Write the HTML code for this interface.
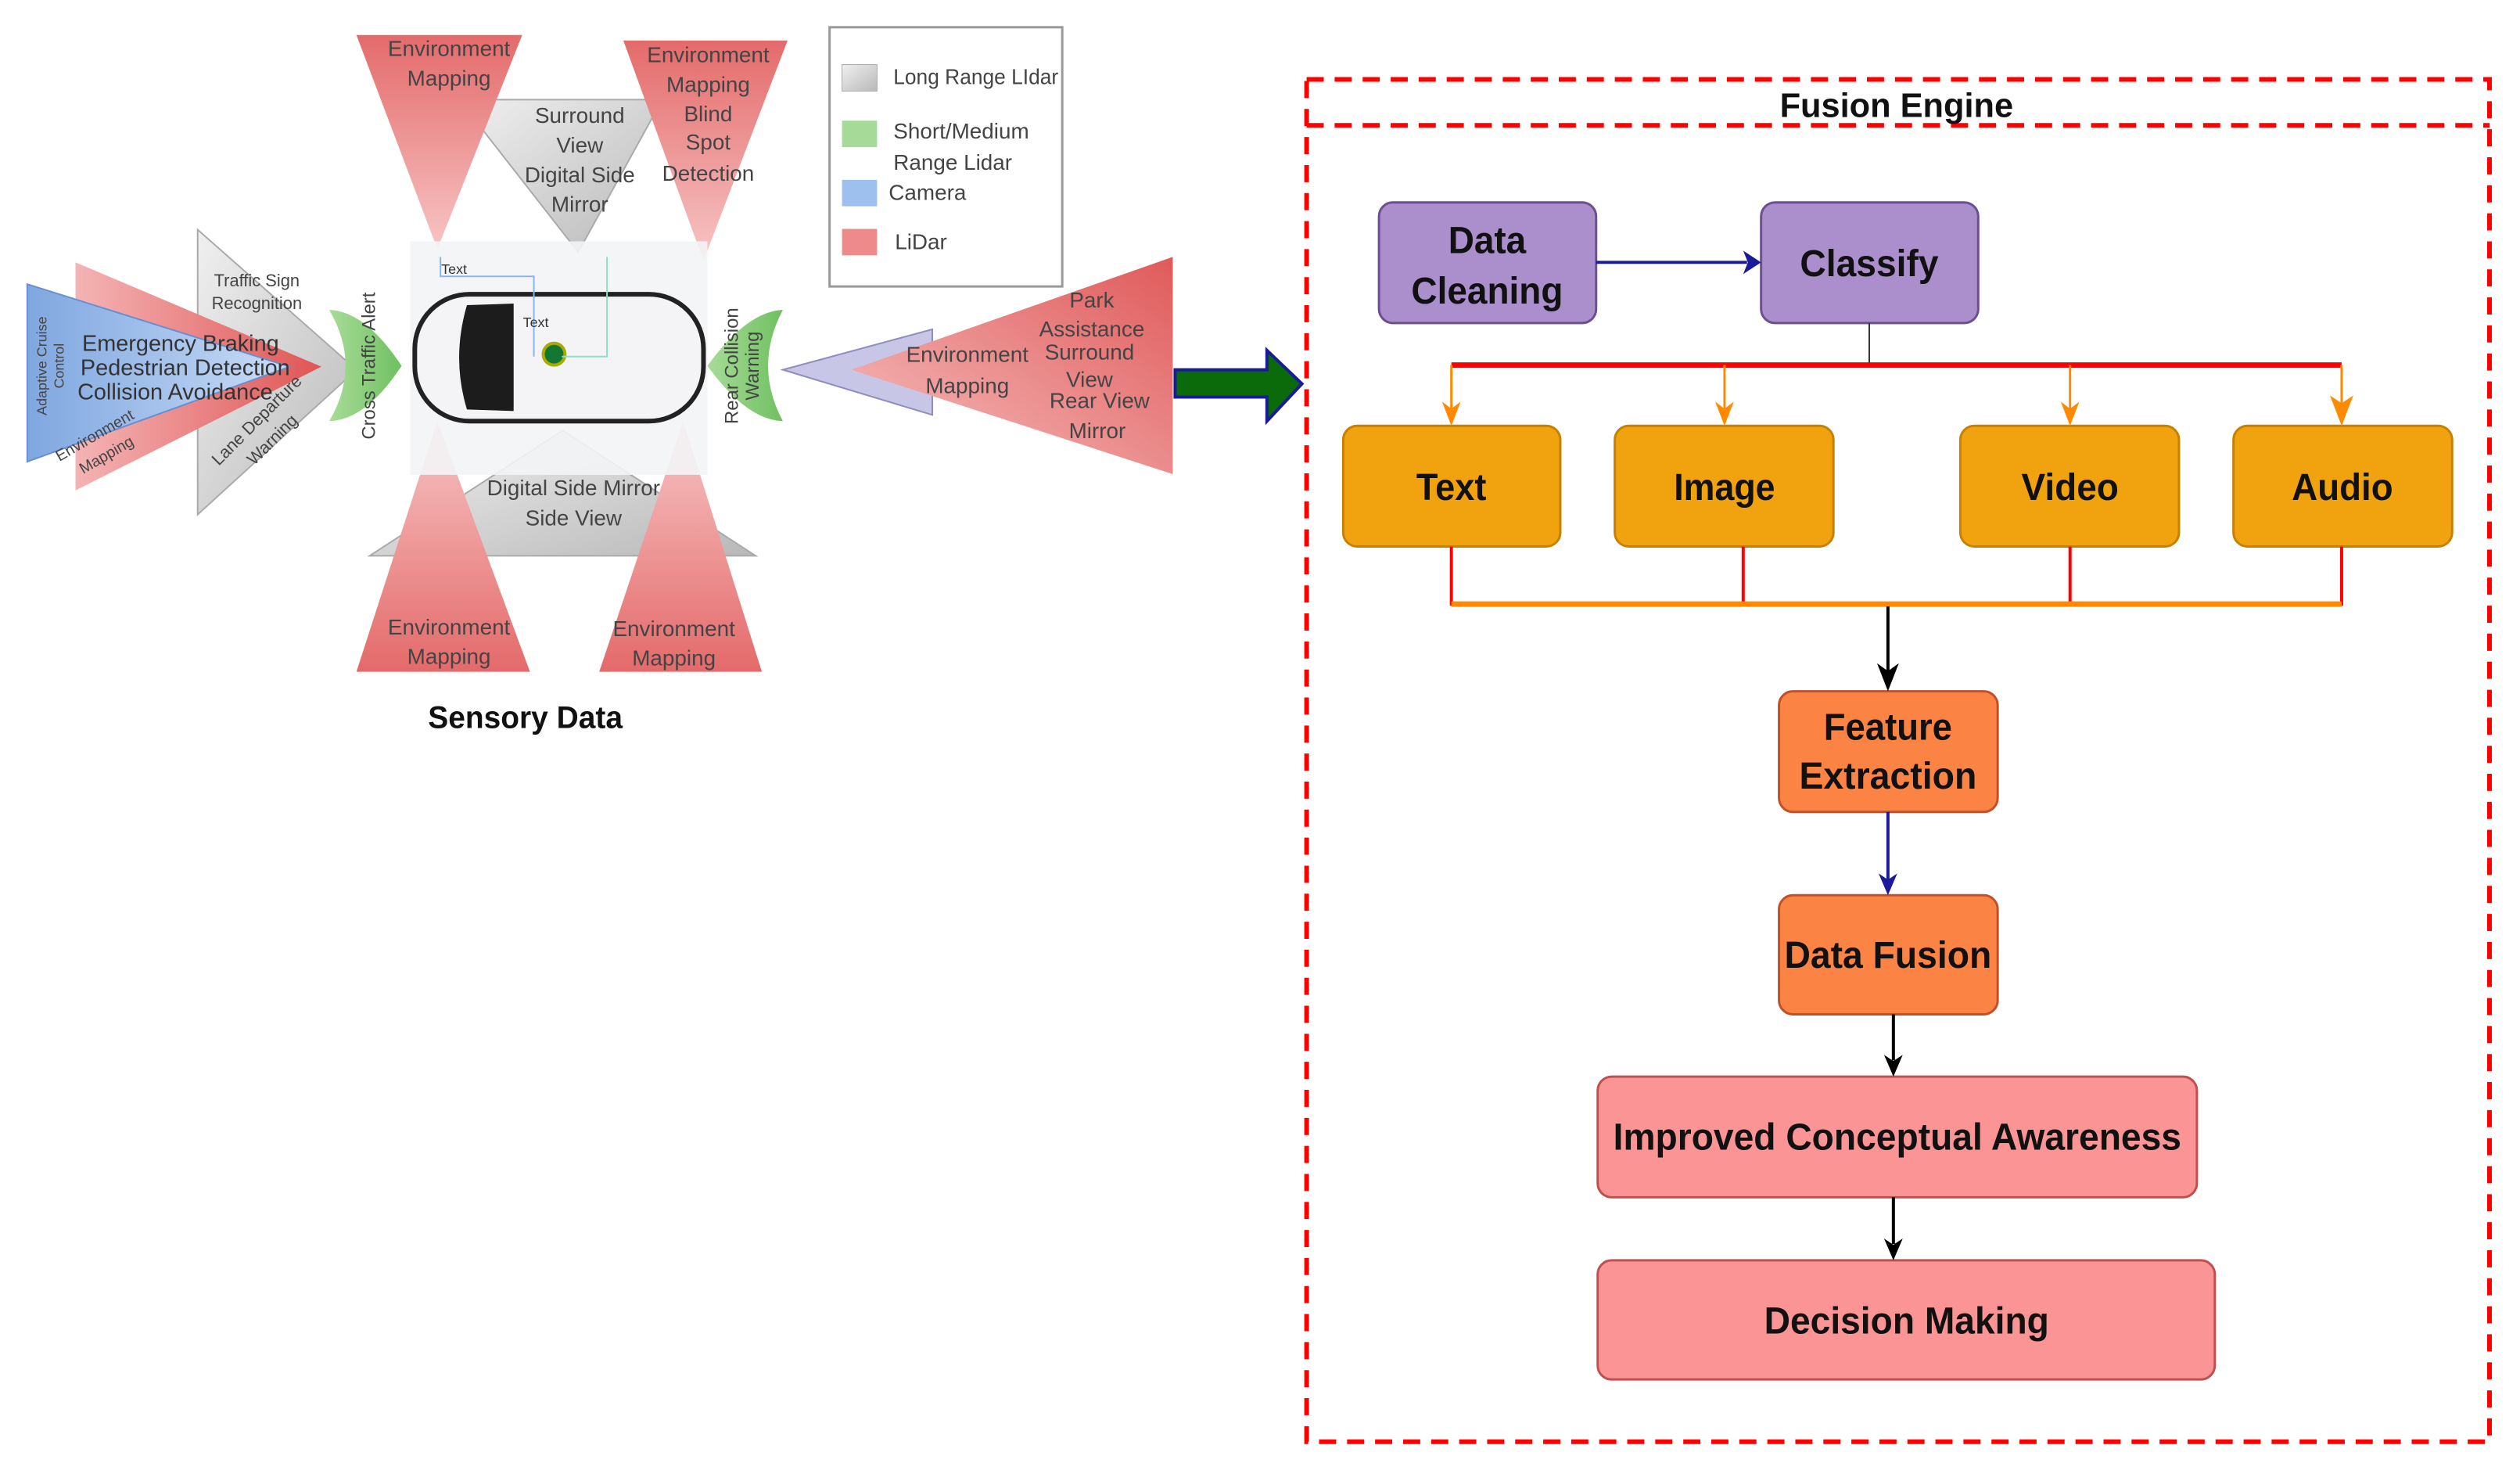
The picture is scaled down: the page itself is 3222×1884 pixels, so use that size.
<!DOCTYPE html>
<html><head><meta charset="utf-8"><style>
html,body{margin:0;padding:0;background:#fff}
svg{display:block}
text{font-family:"Liberation Sans",sans-serif}
</style></head><body>
<svg width="3222" height="1884" viewBox="0 0 3222 1884" xmlns="http://www.w3.org/2000/svg">
<defs>
<linearGradient id="rd" x1="0" y1="0" x2="0" y2="1"><stop offset="0" stop-color="#e46a6a"/><stop offset="1" stop-color="#f7c5c5"/></linearGradient>
<linearGradient id="ru" x1="0" y1="1" x2="0" y2="0"><stop offset="0" stop-color="#e46a6a"/><stop offset="1" stop-color="#f7c5c5"/></linearGradient>
<linearGradient id="rl" x1="0" y1="0" x2="1" y2="0"><stop offset="0" stop-color="#f4b4b4"/><stop offset="1" stop-color="#e05555"/></linearGradient>
<linearGradient id="rr" x1="1" y1="0" x2="0" y2="1"><stop offset="0" stop-color="#e05a5a"/><stop offset="1" stop-color="#f6c0c0"/></linearGradient>
<linearGradient id="gr" x1="0" y1="0" x2="1" y2="1"><stop offset="0" stop-color="#f0f0f0"/><stop offset="1" stop-color="#b8b8b8"/></linearGradient>
<linearGradient id="bl" x1="0" y1="0" x2="1" y2="0"><stop offset="0" stop-color="#7fa7e0"/><stop offset="1" stop-color="#c9dcf6"/></linearGradient>
<linearGradient id="gn" x1="0" y1="0" x2="1" y2="0"><stop offset="0" stop-color="#a8dc98"/><stop offset="1" stop-color="#6fc060"/></linearGradient>
</defs>
<g transform="scale(0.995)">
<!-- LEFT SENSORY DIAGRAM -->
<polygon points="590,128 851,128 743,324" fill="url(#gr)" stroke="#aaa" stroke-width="2"/>
<polygon points="458,45 671,45 562,320" fill="url(#rd)"/>
<polygon points="801,52 1012,52 904,335" fill="url(#rd)"/>
<polygon points="254,295 254,661 458,475" fill="url(#gr)" stroke="#aaa" stroke-width="2"/>
<polygon points="97,337 97,630 413,471" fill="url(#rl)"/>
<polygon points="35,365 35,593 372,471" fill="url(#bl)" stroke="#6a8fd0" stroke-width="2"/>
<polygon points="1006,475 1198,423 1198,533" fill="#c8c6e6" stroke="#8f8cc0" stroke-width="2"/>
<polygon points="1094,475 1507,330 1507,609" fill="url(#rr)"/>
<polygon points="475,714 971,714 723,553" fill="url(#gr)" stroke="#aaa" stroke-width="2"/>
<polygon points="458,863 681,863 562,541" fill="url(#ru)"/>
<polygon points="770,863 979,863 878,541" fill="url(#ru)"/>
<!-- car area -->
<rect x="527" y="310" width="382" height="300" fill="#f3f4f6" opacity="0.9"/>
<path d="M423,398 Q470,400 516,470 Q470,540 423,541 Q465,470 423,398Z" fill="url(#gn)"/>
<path d="M1006,398 Q960,400 909,470 Q960,540 1006,541 Q968,470 1006,398Z" fill="url(#gn)"/>
<rect x="533" y="378" width="371" height="163" rx="70" fill="#f4f4f6" stroke="#222" stroke-width="6"/>
<path d="M600,392 L660,390 L660,528 L600,526 Q580,460 600,392Z" fill="#1c1c1c"/>
<circle cx="712" cy="455" r="14" fill="#173" stroke="#aa0" stroke-width="4"/>
<polyline points="566,330 566,355 686,355 686,458" fill="none" stroke="#8ab4f0" stroke-width="2"/>
<polyline points="780,330 780,458 722,458" fill="none" stroke="#8ee0c0" stroke-width="2"/>
<text x="567" y="352" font-size="18" fill="#333">Text</text>
<text x="672" y="420" font-size="18" fill="#333">Text</text>

<g fill="#444" font-size="28" text-anchor="middle">
<text x="577" y="72" font-size="28">Environment</text><text x="577" y="110">Mapping</text>
<text x="910" y="80">Environment</text><text x="910" y="118">Mapping</text><text x="910" y="156">Blind</text><text x="910" y="192">Spot</text><text x="910" y="232">Detection</text>
<text x="745" y="158">Surround</text><text x="745" y="196">View</text><text x="745" y="234">Digital Side</text><text x="745" y="272">Mirror</text>
<text x="330" y="368" font-size="22">Traffic Sign</text><text x="330" y="397" font-size="22">Recognition</text>
<text x="232" y="451" font-size="29" fill="#333">Emergency Braking</text>
<text x="238" y="482" font-size="29" fill="#333">Pedestrian Detection</text>
<text x="225" y="513" font-size="29" fill="#333">Collision Avoidance</text>
<text transform="translate(60,470) rotate(-90)" font-size="18">Adaptive Cruise</text>
<text transform="translate(82,470) rotate(-90)" font-size="18">Control</text>
<text transform="translate(125,565) rotate(-30)" font-size="20">Environment</text>
<text transform="translate(140,590) rotate(-30)" font-size="20">Mapping</text>
<text transform="translate(335,545) rotate(-45)" font-size="22">Lane Departure</text>
<text transform="translate(355,570) rotate(-45)" font-size="22">Warning</text>
<text transform="translate(482,470) rotate(-90)" font-size="24">Cross Traffic Alert</text>
<text transform="translate(948,470) rotate(-90)" font-size="24">Rear Collision</text>
<text transform="translate(975,470) rotate(-90)" font-size="24">Warning</text>
<text x="1243" y="465">Environment</text><text x="1243" y="505">Mapping</text>
<text x="1403" y="395">Park</text><text x="1403" y="432">Assistance</text><text x="1400" y="462">Surround</text><text x="1400" y="497">View</text><text x="1413" y="524">Rear View</text><text x="1410" y="563">Mirror</text>
<text x="737" y="636">Digital Side Mirror</text><text x="737" y="675">Side View</text>
<text x="577" y="815">Environment</text><text x="577" y="853">Mapping</text>
<text x="866" y="817">Environment</text><text x="866" y="855">Mapping</text>
</g>
<text x="675" y="935" font-size="40" font-weight="bold" text-anchor="middle" fill="#111" textLength="250" lengthAdjust="spacingAndGlyphs">Sensory Data</text>

<!-- legend -->
<rect x="1066" y="35" width="299" height="333" fill="#fff" stroke="#999" stroke-width="3"/>
<rect x="1082" y="83" width="45" height="34" fill="url(#gr)" stroke="#aaa"/>
<rect x="1082" y="155" width="45" height="34" fill="#a6da98"/>
<rect x="1082" y="231" width="45" height="34" fill="#9ec0ee"/>
<rect x="1082" y="294" width="45" height="34" fill="#ee8a8a"/>
<g font-size="28" fill="#444">
<text x="1148" y="108" textLength="212" lengthAdjust="spacingAndGlyphs">Long Range LIdar</text>
<text x="1148" y="178">Short/Medium</text><text x="1148" y="218">Range Lidar</text>
<text x="1142" y="257">Camera</text>
<text x="1150" y="320">LiDar</text>
</g>

<!-- green arrow -->
<polygon points="1510,475 1628,475 1628,450 1673,493 1628,541 1628,510 1510,510" fill="#0b6b0b" stroke="#1a1a9a" stroke-width="4"/>

<!-- FUSION ENGINE -->
<g fill="none" stroke="#f00" stroke-width="6" stroke-dasharray="22,14">
<rect x="1679" y="102" width="1520" height="1750"/>
<line x1="1679" y1="161" x2="3199" y2="161"/>
</g>
<text x="2437" y="150" font-size="44" font-weight="bold" text-anchor="middle" fill="#111" textLength="300" lengthAdjust="spacingAndGlyphs">Fusion Engine</text>

<g stroke-width="3">
<rect x="1772" y="260" width="279" height="155" rx="18" fill="#ab8fcc" stroke="#6b4f8f"/>
<rect x="2263" y="260" width="279" height="155" rx="18" fill="#ab8fcc" stroke="#6b4f8f"/>
<rect x="1726" y="547" width="279" height="155" rx="18" fill="#f0a30f" stroke="#c88000"/>
<rect x="2075" y="547" width="281" height="155" rx="18" fill="#f0a30f" stroke="#c88000"/>
<rect x="2519" y="547" width="281" height="155" rx="18" fill="#f0a30f" stroke="#c88000"/>
<rect x="2870" y="547" width="281" height="155" rx="18" fill="#f0a30f" stroke="#c88000"/>
<rect x="2286" y="888" width="281" height="155" rx="18" fill="#fb8344" stroke="#c0502a"/>
<rect x="2286" y="1150" width="281" height="153" rx="18" fill="#fb8344" stroke="#c0502a"/>
<rect x="2053" y="1383" width="770" height="155" rx="18" fill="#fb9595" stroke="#c05050"/>
<rect x="2053" y="1619" width="793" height="153" rx="18" fill="#fb9595" stroke="#c05050"/>
</g>
<g font-size="48" font-weight="bold" text-anchor="middle" fill="#111" lengthAdjust="spacingAndGlyphs">
<text x="1911" y="325" textLength="100" lengthAdjust="spacingAndGlyphs">Data</text><text x="1911" y="390" textLength="195" lengthAdjust="spacingAndGlyphs">Cleaning</text>
<text x="2402" y="355" textLength="178" lengthAdjust="spacingAndGlyphs">Classify</text>
<text x="1865" y="642" textLength="90" lengthAdjust="spacingAndGlyphs">Text</text><text x="2216" y="642" textLength="130" lengthAdjust="spacingAndGlyphs">Image</text><text x="2660" y="642" textLength="125" lengthAdjust="spacingAndGlyphs">Video</text><text x="3010" y="642" textLength="130" lengthAdjust="spacingAndGlyphs">Audio</text>
<text x="2426" y="950" textLength="165" lengthAdjust="spacingAndGlyphs">Feature</text><text x="2426" y="1013" textLength="228" lengthAdjust="spacingAndGlyphs">Extraction</text>
<text x="2426" y="1243" textLength="266" lengthAdjust="spacingAndGlyphs">Data Fusion</text>
<text x="2438" y="1477" textLength="730" lengthAdjust="spacingAndGlyphs">Improved Conceptual Awareness</text>
<text x="2450" y="1713" textLength="366" lengthAdjust="spacingAndGlyphs">Decision Making</text>
</g>

<!-- connectors -->
<line x1="2051" y1="337" x2="2245" y2="337" stroke="#1a1a9a" stroke-width="4"/>
<polygon points="2263,337 2240,322 2246,337 2240,352" fill="#1a1a9a"/>
<line x1="2402" y1="415" x2="2402" y2="469" stroke="#333" stroke-width="2"/>
<line x1="1865" y1="469" x2="3009" y2="469" stroke="#f00" stroke-width="7"/>
<g stroke="#ff8a00" stroke-width="3">
<line x1="1865" y1="469" x2="1865" y2="530"/><line x1="2216" y1="469" x2="2216" y2="530"/><line x1="2660" y1="469" x2="2660" y2="530"/><line x1="3009" y1="469" x2="3009" y2="525"/>
</g>
<g fill="#ff8a00">
<polygon points="1865,547 1853,516 1865,525 1877,516"/><polygon points="2216,547 2204,516 2216,525 2228,516"/><polygon points="2660,547 2648,516 2660,525 2672,516"/><polygon points="3009,547 2994,508 3009,518 3024,508"/>
</g>
<g stroke="#f00" stroke-width="4">
<line x1="1865" y1="702" x2="1865" y2="778"/><line x1="2240" y1="702" x2="2240" y2="778"/><line x1="2660" y1="702" x2="2660" y2="778"/><line x1="3009" y1="702" x2="3009" y2="778"/>
</g>
<line x1="1865" y1="776" x2="3009" y2="776" stroke="#ff8a00" stroke-width="7"/>
<line x1="2426" y1="779" x2="2426" y2="866" stroke="#000" stroke-width="4"/>
<polygon points="2426,888 2412,852 2426,862 2440,852" fill="#000"/>
<line x1="2426" y1="1043" x2="2426" y2="1130" stroke="#1a1a9a" stroke-width="4"/>
<polygon points="2426,1150 2414,1122 2426,1130 2438,1122" fill="#1a1a9a"/>
<line x1="2433" y1="1303" x2="2433" y2="1362" stroke="#000" stroke-width="4"/>
<polygon points="2433,1383 2421,1355 2433,1363 2445,1355" fill="#000"/>
<line x1="2433" y1="1538" x2="2433" y2="1598" stroke="#000" stroke-width="4"/>
<polygon points="2433,1619 2421,1591 2433,1599 2445,1591" fill="#000"/>
</g>
</svg>
</body></html>
